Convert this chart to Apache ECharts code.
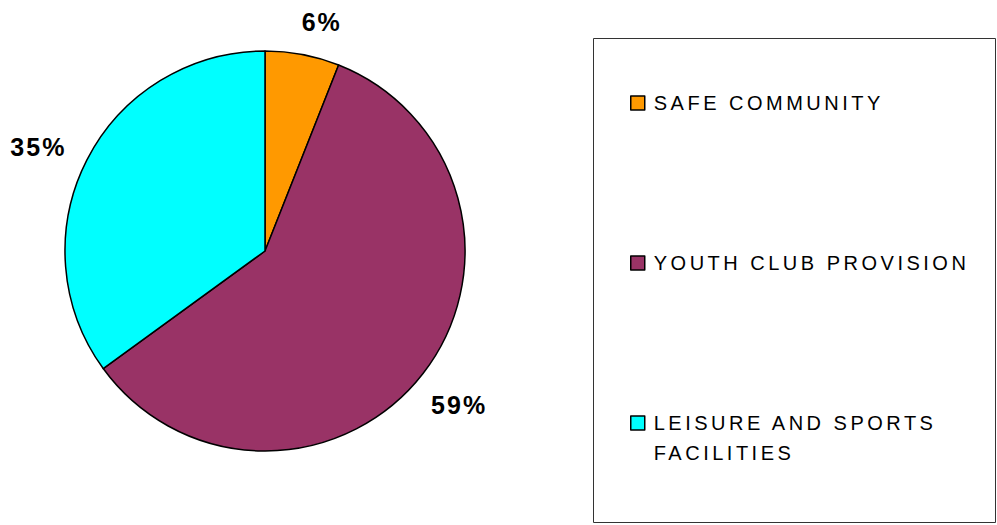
<!DOCTYPE html>
<html>
<head>
<meta charset="utf-8">
<script src="https://cdn.jsdelivr.net/npm/echarts@6/dist/echarts.min.js"></script>
<style>
  html, body { margin: 0; padding: 0; background: #fff; }
  #chart { width: 997px; height: 525px; }
  /* spaced lettering like the original */
  #chart text { letter-spacing: 3.5px; }
  #chart text[style*="bold"] { letter-spacing: 2px; }
</style>
</head>
<body>
<div id="chart"></div>
<script>
// 数据
var categories = ["SAFE COMMUNITY", "YOUTH CLUB PROVISION", "LEISURE AND SPORTS FACILITIES"];
var values = [6, 59, 35];
var colors = ["#FF9900", "#993366", "#00FFFF"];

var fontFam = "'Liberation Sans', Arial, sans-serif";

var chart = echarts.init(document.getElementById("chart"), null, { renderer: "svg" });

// long names wrap at the last space; an empty line on top keeps
// the first line level with the legend square
function wrapName(name) {
  if (name.length <= 20) return name;
  var i = name.lastIndexOf(" ");
  return "\n" + name.slice(0, i) + "\n" + name.slice(i + 1);
}

var pieData = categories.map(function (c, i) {
  return { name: c, value: values[i], itemStyle: { color: colors[i] } };
});

var legendData = categories.map(function (c) {
  var twoLines = wrapName(c).indexOf("\n") >= 0;
  return {
    name: c,
    textStyle: { padding: twoLines ? [0, 0, 0, 4] : [30, 0, 30, 4] }
  };
});

// nudge the percent labels a little (like the excel chart)
var labelShift = [[-12, 0], [-23, 11], [14, 2]];

var option = {
  backgroundColor: "#fff",
  animation: false,
  // legend frame
  graphic: [
    {
      type: "rect",
      shape: { x: 593.5, y: 38.5, width: 402, height: 484 },
      style: { fill: "none", stroke: "#333", lineWidth: 1 },
      silent: true
    }
  ],
  legend: {
    orient: "vertical",
    left: 630,
    top: 58,
    padding: 0,
    itemGap: 70,
    itemWidth: 14,
    itemHeight: 14,
    icon: "rect",
    itemStyle: { borderColor: "#000", borderWidth: 1.5 },
    formatter: wrapName,
    textStyle: {
      fontFamily: fontFam,
      fontSize: 20,
      lineHeight: 30,
      color: "#000"
    },
    data: legendData
  },
  series: [
    {
      type: "pie",
      center: [265, 251],
      radius: 200,
      startAngle: 90,
      clockwise: true,
      itemStyle: { borderColor: "#000", borderWidth: 1.5 },
      label: {
        show: true,
        position: "outside",
        formatter: "{c}%",
        fontFamily: fontFam,
        fontWeight: "bold",
        fontSize: 25,
        color: "#000",
        overflow: "none"
      },
      labelLine: { show: false, length: 33, length2: 0 },
      labelLayout: function (p) {
        var s = labelShift[p.dataIndex];
        return { dx: s[0], dy: s[1] };
      },
      emphasis: { disabled: true },
      data: pieData
    }
  ]
};

chart.setOption(option);
</script>
</body>
</html>
